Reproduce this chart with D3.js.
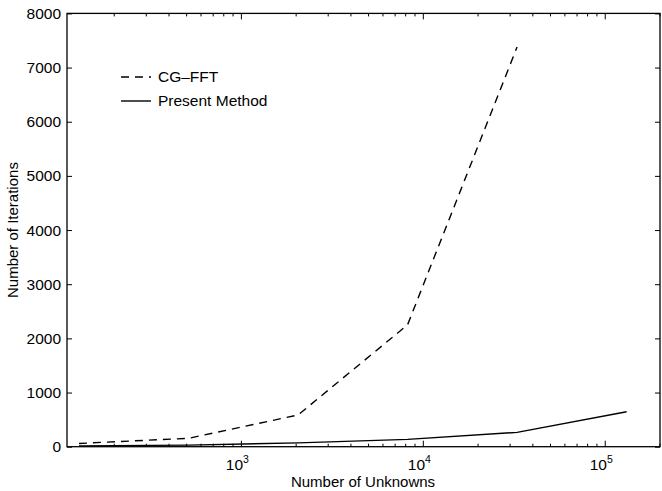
<!DOCTYPE html>
<html><head><meta charset="utf-8">
<script src="https://cdn.jsdelivr.net/npm/d3@7"></script>
<style>body{margin:0;background:#fff}svg{display:block}text{font-family:"Liberation Sans",Arial,sans-serif;fill:#000}</style>
</head><body><svg id="c" width="662" height="491"></svg>
<script>
const unknowns = [128, 512, 2048, 8192, 32768, 131072];
const cgfft = [60, 155, 585, 2250, 7380];
const present = [15, 30, 70, 136, 265, 646];
const yTicks = [0, 1000, 2000, 3000, 4000, 5000, 6000, 7000, 8000];
const xMajor = [1e3, 1e4, 1e5];
const seriesNames = ["CG\u2013FFT", "Present Method"];

const svg = d3.select("#c");
const L = 67, R = 660, T = 13.4, B = 446.7;
const x = d3.scaleLog().domain([110, 2e5]).range([L, R]);
const y = d3.scaleLinear().domain([0, 8000]).range([B, T]);

// frame
svg.append("rect").attr("x", L).attr("y", T).attr("width", R - L).attr("height", B - T)
  .attr("fill", "none").attr("stroke", "#000").attr("stroke-width", 1.3);

// y ticks (left and right, inward)
const yl = svg.append("g").attr("transform", `translate(${L},0)`)
  .call(d3.axisLeft(y).tickValues(yTicks).tickSize(-5).tickPadding(6).tickFormat(d3.format("d")));
yl.select(".domain").remove();
yl.selectAll("text").style("font-size", "15.5px").style("font-family", '"Liberation Sans",Arial,sans-serif');
const yr = svg.append("g").attr("transform", `translate(${R},0)`)
  .call(d3.axisRight(y).tickValues(yTicks).tickSize(-5).tickFormat(""));
yr.select(".domain").remove();

// x ticks
const minor = [];
for (let e = 2; e <= 5; e++) for (let m = 1; m <= 9; m++) {
  const v = m * Math.pow(10, e);
  if (v >= 110 && v <= 2e5 && m !== 1) minor.push(v);
}
function xTicks(yPos, dir) {
  const g = svg.append("g");
  g.selectAll("line.mi").data(minor).enter().append("line")
    .attr("x1", d => x(d)).attr("x2", d => x(d)).attr("y1", yPos).attr("y2", yPos + dir * 3)
    .attr("stroke", "#000");
  g.selectAll("line.ma").data(xMajor).enter().append("line")
    .attr("x1", d => x(d)).attr("x2", d => x(d)).attr("y1", yPos).attr("y2", yPos + dir * 6)
    .attr("stroke", "#000");
}
xTicks(B, -1);
xTicks(T, 1);

// x tick labels 10^n
const xl = svg.append("g");
xMajor.forEach(v => {
  const t = xl.append("text").attr("x", x(v) - 4).attr("y", 470).attr("text-anchor", "middle")
    .style("font-size", "15.5px");
  t.append("tspan").text("10");
  t.append("tspan").attr("dy", -7).style("font-size", "10.5px").text(String(Math.round(Math.log10(v))));
});

// axis titles
svg.append("text").attr("x", 363).attr("y", 487).attr("text-anchor", "middle")
  .style("font-size", "15px").text("Number of Unknowns");
svg.append("text").attr("transform", `translate(18,${(T + B) / 2}) rotate(-90)`)
  .attr("text-anchor", "middle").style("font-size", "15px").text("Number of Iterations");

// lines
const line = d3.line().x(d => x(d[0])).y(d => y(d[1]));
svg.append("path").datum(cgfft.map((v, i) => [unknowns[i], v]))
  .attr("d", line).attr("fill", "none").attr("stroke", "#000").attr("stroke-width", 1.4)
  .attr("stroke-dasharray", "8,6");
svg.append("path").datum(present.map((v, i) => [unknowns[i], v]))
  .attr("d", line).attr("fill", "none").attr("stroke", "#000").attr("stroke-width", 1.4);

// legend
const lg = svg.append("g");
lg.append("line").attr("x1", 121).attr("x2", 151).attr("y1", 77).attr("y2", 77)
  .attr("stroke", "#000").attr("stroke-width", 1.4).attr("stroke-dasharray", "8,6");
lg.append("line").attr("x1", 121).attr("x2", 151).attr("y1", 101).attr("y2", 101)
  .attr("stroke", "#000").attr("stroke-width", 1.4);
lg.append("text").attr("x", 158).attr("y", 82).style("font-size", "15.5px").text(seriesNames[0]);
lg.append("text").attr("x", 158).attr("y", 106).style("font-size", "15.5px").text(seriesNames[1]);
</script></body></html>
